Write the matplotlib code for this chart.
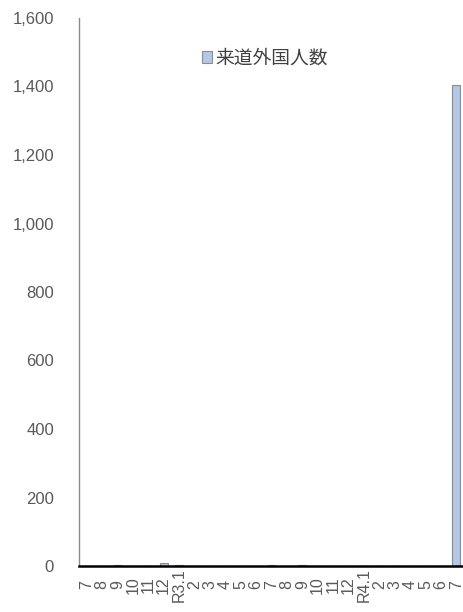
import matplotlib
matplotlib.use("Agg")
import matplotlib.pyplot as plt
from matplotlib.ticker import FuncFormatter, MultipleLocator
from matplotlib.patches import Patch

months = ["7", "8", "9", "10", "11", "12", "R3.1", "2", "3", "4", "5", "6",
          "7", "8", "9", "10", "11", "12", "R4.1", "2", "3", "4", "5", "6", "7"]
visitors = [0, 0, 3, 0, 0, 8, 2, 0, 0, 0, 0, 0,
            2, 0, 2, 0, 0, 0, 0, 0, 0, 0, 0, 0, 1405]
series_name = "来道外国人数"

W, H = 464, 612
fig = plt.figure(figsize=(W / 100, H / 100), dpi=100)
left, right = 79, 464
top, bottom = 18, 566
ax = fig.add_axes([left / W, (H - bottom) / H, (right - left) / W, (bottom - top) / H])

x = range(len(months))
ax.bar(x, visitors, width=0.5, color="#B4C7E7", edgecolor="#8C8C8C", linewidth=0.8, zorder=2)

ax.set_xlim(-0.5, len(months) - 0.5)
ax.set_ylim(0, 1600)
ax.yaxis.set_major_locator(MultipleLocator(200))
ax.yaxis.set_major_formatter(FuncFormatter(lambda v, p: f"{int(v):,}"))

for s in ("top", "right"):
    ax.spines[s].set_visible(False)
ax.spines["left"].set_color("#8C8C8C")
ax.spines["left"].set_linewidth(1.0)
ax.spines["bottom"].set_color("black")
ax.spines["bottom"].set_linewidth(1.8)
ax.spines["bottom"].set_zorder(3)

ax.set_xticks(list(x))
ax.set_xticklabels(months, rotation=90, va="center", ha="center",
                   family=["Liberation Sans", "DejaVu Sans"], fontsize=11.5, color="#595959")
ax.tick_params(axis="x", length=0, pad=13.5)
ax.tick_params(axis="y", length=0, pad=18, labelsize=12, labelcolor="#595959")
for lab in ax.get_yticklabels():
    lab.set_family(["Liberation Sans", "DejaVu Sans"])

handle = Patch(facecolor="#B4C7E7", edgecolor="#8C8C8C", linewidth=0.8)
ax.legend([handle], [series_name], loc="center", bbox_to_anchor=(265 / W, (H - 58) / H),
          bbox_transform=fig.transFigure, frameon=False, handlelength=0.55, handleheight=0.55,
          handletextpad=0.2, labelcolor="#404040",
          prop={"family": ["Noto Sans CJK JP", "DejaVu Sans"], "size": 13.5})

fig.savefig("out.png", dpi=100)
